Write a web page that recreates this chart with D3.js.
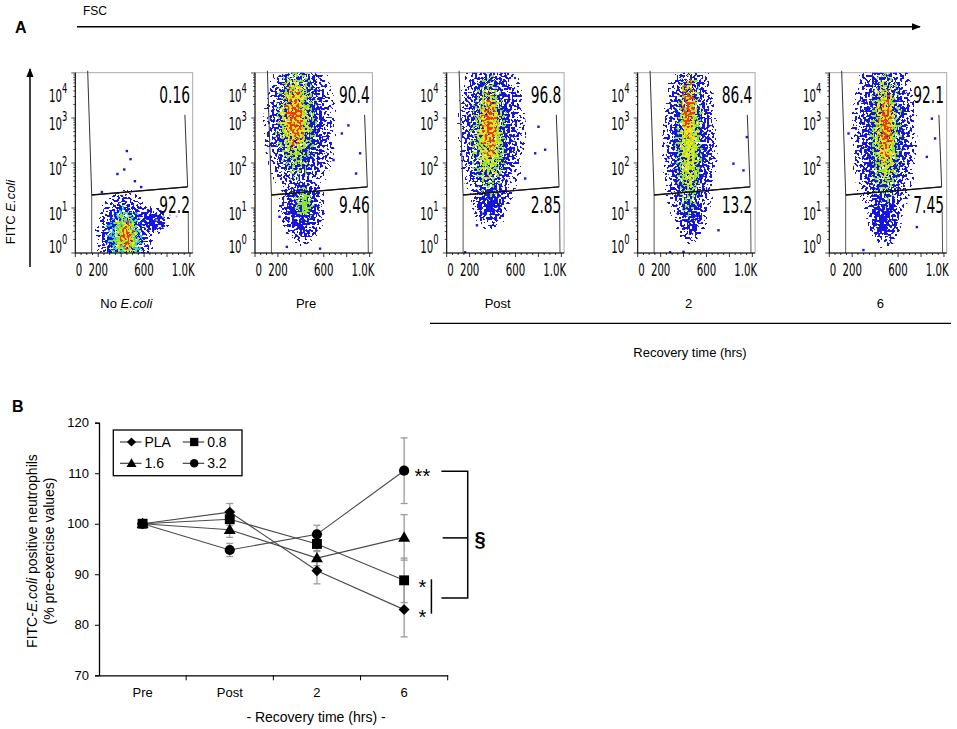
<!DOCTYPE html>
<html><head><meta charset="utf-8">
<script src="https://cdn.jsdelivr.net/npm/d3@7/dist/d3.min.js"></script>
<style>
html,body{margin:0;padding:0;background:#fff;}
svg{display:block;}
text{font-family:"Liberation Sans",Arial,sans-serif;fill:#000;}
.flow{font-family:"DejaVu Sans",sans-serif;}
</style></head>
<body>
<svg id="fig" width="957" height="729"></svg>
<script>
// ---------------- DATA ----------------
// Panel A: flow cytometry
const panelNames = ["No E.coli", "Pre", "Post", "2", "6"];
const upperPct = ["0.16", "90.4", "96.8", "86.4", "92.1"];
const lowerPct = ["92.2", "9.46", "2.85", "13.2", "7.45"];
const fscTickValues = [0, 200, 600, 1000];
const fscTickLabels = ["0", "200", "600", "1.0K"];
const fitcDecades = [0, 1, 2, 3, 4];
// population clouds: [FSC centre, log10 FITC centre, FSC radius, log radius, level]
const clouds1 = [[430,0.4,260,1.05,"blue"],[660,0.72,170,0.32,"blue"],[430,0.35,175,0.72,"cyan"],[435,0.35,140,0.6,"green"],[440,0.38,105,0.48,"yellow"],[450,0.38,70,0.36,"red"]];
const clouds2 = [[390,2.85,320,1.75,"blue"],[410,1.0,210,0.85,"blue"],[360,2.9,190,1.35,"green"],[350,3.0,140,1.05,"yellow"],[345,3.0,95,0.75,"red"],[430,1.1,90,0.4,"green"]];
const clouds3 = [[390,2.75,300,1.95,"blue"],[380,1.2,170,0.7,"blue"],[370,2.6,170,1.45,"green"],[370,2.7,125,1.15,"yellow"],[370,2.8,80,0.85,"red"]];
const clouds4 = [[455,2.4,245,2.2,"blue"],[460,0.9,130,0.7,"blue"],[450,2.4,130,1.8,"green"],[450,2.6,90,1.4,"yellow"],[440,3.2,65,0.75,"red"]];
const clouds5 = [[480,2.6,290,2.1,"blue"],[480,0.9,160,0.8,"blue"],[490,2.6,150,1.65,"green"],[490,2.7,105,1.3,"yellow"],[490,2.8,70,0.9,"red"]];
// isolated events: [FSC, log10 FITC]
const events1 = [[448,2.27],[480,2.09],[425,1.86],[366,1.76],[518,1.6],[573,1.47],[230,1.36]];
const events2 = [[915,2.22],[880,1.77],[813,2.84],[756,2.66],[683,2.07],[212,0.81],[276,0.14],[566,0.1]];
const events3 = [[857,2.30],[799,2.81],[770,2.22],[683,1.66],[319,0.88],[262,0.62],[159,0.02]];
const events4 = [[950,2.58],[921,1.84],[833,1.99],[703,0.51],[398,0.03],[281,0.02]];
const events5 = [[921,2.55],[849,2.14],[893,2.99],[166,2.66],[296,0.07],[762,0.58]];
const faintEvents = [[767,0.81],[826,0.84],[884,0.81],[710,0.73]];
// gate outlines (FSC, log10 FITC)
const gateUpper = [[108,4.1],[143,1.29],[980,1.47],[956,3.07]];
const gateLowerLeft = [[143,1.29],[143,0]];
const gateLowerRight = [[985,0.92],[988,0]];

// Panel B: line chart
const timepoints = ["Pre", "Post", "2", "6"];
const seriesNames = ["PLA", "0.8", "1.6", "3.2"];
const valPLA = [100, 102.3, 90.7, 83.0];
const errPLA = [0, 1.7, 2.6, 5.4];
const val08 = [100, 100.9, 96.0, 88.8];
const err08 = [0, 1.2, 1.5, 4.4];
const val16 = [100, 98.8, 93.2, 97.3];
const err16 = [0, 1.5, 1.5, 4.5];
const val32 = [100, 94.8, 97.9, 110.5];
const err32 = [0, 1.3, 1.8, 6.5];
const yTicksB = [70, 80, 90, 100, 110, 120];

// ---------------- DRAW ----------------
const svg = d3.select("#fig");
const defs = svg.append("defs");

const levelColors = {blue:"#1616dc", cyan:"#22c8e8", green:"#8ae828", yellow:"#ece41a", red:"#f2380e"};
// centre / mid / edge opacities of each density level
const levelOpacity = {blue:[1,0.75,0.42], cyan:[0.9,0.6,0.3], green:[0.88,0.62,0.3], yellow:[0.78,0.55,0.25], red:[0.66,0.45,0.2]};
const levelSeeds = {blue:3, cyan:7, green:11, yellow:17, red:23};
Object.keys(levelColors).forEach(k => {
  const op = levelOpacity[k];
  const g = defs.append("radialGradient").attr("id","grad-"+k);
  g.append("stop").attr("offset","0%").attr("stop-color",levelColors[k]).attr("stop-opacity",op[0]);
  g.append("stop").attr("offset","45%").attr("stop-color",levelColors[k]).attr("stop-opacity",op[1]);
  g.append("stop").attr("offset","80%").attr("stop-color",levelColors[k]).attr("stop-opacity",op[2]);
  g.append("stop").attr("offset","100%").attr("stop-color",levelColors[k]).attr("stop-opacity",0);
  const f = defs.append("filter").attr("id","spk-"+k)
    .attr("filterUnits","userSpaceOnUse").attr("x",0).attr("y",0).attr("width",957).attr("height",729)
    .attr("color-interpolation-filters","sRGB");
  f.append("feTurbulence").attr("type","fractalNoise").attr("baseFrequency",0.4).attr("numOctaves",1)
    .attr("seed",levelSeeds[k]).attr("result","n");
  f.append("feColorMatrix").attr("in","n").attr("type","matrix")
    .attr("values","0 0 0 0 0  0 0 0 0 0  0 0 0 0 0  3.2 0 0 0 -1.1").attr("result","na");
  f.append("feComposite").attr("in","SourceAlpha").attr("in2","na").attr("operator","arithmetic")
    .attr("k1",0).attr("k2",1).attr("k3",1).attr("k4",-0.5).attr("result","s");
  const ct = f.append("feComponentTransfer").attr("in","s").attr("result","m");
  ct.append("feFuncA").attr("type","discrete").attr("tableValues","0 1");
  f.append("feColorMatrix").attr("in","SourceGraphic").attr("type","matrix")
    .attr("values","1 0 0 0 0  0 1 0 0 0  0 0 1 0 0  0 0 0 100 0").attr("result","op");
  f.append("feComposite").attr("in","op").attr("in2","m").attr("operator","in");
});

// arrow marker
defs.append("marker").attr("id","arr").attr("viewBox","0 0 10 10").attr("refX",9).attr("refY",5)
  .attr("markerWidth",9).attr("markerHeight",9).attr("markerUnits","userSpaceOnUse").attr("orient","auto")
  .append("path").attr("d","M0,1 L10,5 L0,9 Z").attr("fill","#000");

// Figure labels
svg.append("text").attr("x",15).attr("y",33).attr("font-weight","bold").attr("font-size",16).text("A");
svg.append("text").attr("x",12).attr("y",412).attr("font-weight","bold").attr("font-size",16).text("B");

// FSC arrow
svg.append("text").attr("x",83).attr("y",15).attr("font-size",12).text("FSC");
svg.append("line").attr("x1",77).attr("x2",920).attr("y1",26.7).attr("y2",26.7)
  .attr("stroke","#000").attr("stroke-width",1.5).attr("marker-end","url(#arr)");
// FITC arrow
svg.append("line").attr("x1",30).attr("x2",30).attr("y1",267).attr("y2",69)
  .attr("stroke","#000").attr("stroke-width",1.5).attr("marker-end","url(#arr)");
svg.append("text").attr("transform","translate(15,212) rotate(-90)").attr("text-anchor","middle")
  .attr("font-size",13).html('FITC <tspan font-style="italic">E.coli</tspan>');

const panelLeft = [75.3, 255, 446.7, 637.7, 829.3];
const panelW = 117.4, panelTop = 72.7, panelBottom = 253;
const allClouds = [clouds1, clouds2, clouds3, clouds4, clouds5];
const allEvents = [events1, events2, events3, events4, events5];
const SX = 0.6;

function flowText(g, x, y, str, size, anchor){
  return g.append("text").attr("class","flow")
    .attr("transform",`translate(${x},${y}) scale(${SX},1)`)
    .attr("text-anchor",anchor).attr("font-size",size).text(str);
}

panelNames.forEach((name, i) => {
  const L = panelLeft[i];
  const x = d3.scaleLinear().domain([0,1024]).range([L, L+panelW]);
  const y = d3.scaleLog().domain([1,1e4]).range([panelBottom, panelTop + 0.3]);
  const yl = v => y(Math.pow(10, v));
  const g = svg.append("g");
  const clipId = "clip"+i;
  defs.append("clipPath").attr("id",clipId).append("rect")
    .attr("x",L).attr("y",panelTop).attr("width",panelW).attr("height",panelBottom-panelTop);

  // frame
  g.append("rect").attr("x",L).attr("y",panelTop).attr("width",panelW).attr("height",panelBottom-panelTop)
    .attr("fill","#fff").attr("stroke","#a8a8a8").attr("stroke-width",1);

  // clouds
  const cg = g.append("g").attr("clip-path",`url(#${clipId})`);
  allClouds[i].forEach(c => {
    const cx = x(c[0]), rx = x(c[0]+c[2]) - x(c[0]);
    const cy = yl(c[1]), ry = yl(c[1]) - yl(c[1]+c[3]);
    cg.append("ellipse").attr("cx",cx).attr("cy",cy).attr("rx",rx).attr("ry",ry)
      .attr("fill",`url(#grad-${c[4]})`).attr("filter",`url(#spk-${c[4]})`);
  });
  allEvents[i].forEach(e => {
    cg.append("rect").attr("x",x(e[0])-1).attr("y",yl(e[1])-1).attr("width",2.4).attr("height",2.4).attr("fill","#1616dc");
  });
  if (i === 0) faintEvents.forEach(e => {
    cg.append("rect").attr("x",x(e[0])-1).attr("y",yl(e[1])-1).attr("width",2).attr("height",2).attr("fill","#b8b8f0");
  });

  // gates
  const line = d3.line().x(d => x(d[0])).y(d => yl(Math.max(0,Math.min(4.05,d[1]))));
  [gateUpper, gateLowerLeft, gateLowerRight].forEach((gt, k) => {
    g.append("path").attr("d",line(gt)).attr("fill","none")
      .attr("stroke", k===0 ? "#333" : "#555").attr("stroke-width",1);
  });
  g.append("path").attr("d",line([gateUpper[1],gateUpper[2]])).attr("fill","none").attr("stroke","#111").attr("stroke-width",1.4);

  // percentages
  flowText(g, L+panelW-2.7, 103.3, upperPct[i], 23, "end");
  flowText(g, L+panelW-2.7, 213.3, lowerPct[i], 23, "end");

  // axes
  g.append("line").attr("x1",L).attr("x2",L+panelW).attr("y1",panelBottom).attr("y2",panelBottom).attr("stroke","#000");
  g.append("line").attr("x1",L).attr("x2",L).attr("y1",panelTop).attr("y2",panelBottom).attr("stroke","#000");
  d3.range(0,1025,50).forEach(v => {
    const major = v % 200 === 0;
    g.append("line").attr("x1",x(v)).attr("x2",x(v)).attr("y1",panelBottom).attr("y2",panelBottom+(major?4:2))
      .attr("stroke","#000").attr("stroke-width",0.8);
  });
  fscTickValues.forEach((v, k) => {
    const anchor = k === 0 ? "start" : (k === fscTickValues.length-1 ? "end" : "middle");
    const px = k === 0 ? x(v)+0.5 : (k === fscTickValues.length-1 ? L+panelW+2 : x(v));
    flowText(g, px, 276, fscTickLabels[k], 17, anchor);
  });
  // log ticks
  for (let d = 0; d < 4; d++) {
    for (let m = 1; m < 10; m++) {
      const v = m * Math.pow(10, d);
      g.append("line").attr("x1",L).attr("x2",L-(m===1?4:2)).attr("y1",y(v)).attr("y2",y(v))
        .attr("stroke","#000").attr("stroke-width",0.7);
    }
  }
  g.append("line").attr("x1",L).attr("x2",L-4).attr("y1",y(1e4)).attr("y2",y(1e4)).attr("stroke","#000").attr("stroke-width",0.7);
  fitcDecades.forEach(d => {
    const ty = Math.max(95.7, Math.min(246.7, y(Math.pow(10,d)) + 5.7));
    flowText(g, L-13.4, ty + 6, "10", 17, "end");
    flowText(g, L-13.4, ty - 2.4, String(d), 14, "start");
  });

  // panel name
  const lbl = svg.append("text").attr("x",L+51).attr("y",308).attr("text-anchor","middle").attr("font-size",13);
  if (name === "No E.coli") lbl.html('No <tspan font-style="italic">E.coli</tspan>');
  else lbl.text(name);
});

svg.append("line").attr("x1",430).attr("x2",951).attr("y1",323.3).attr("y2",323.3).attr("stroke","#000").attr("stroke-width",1.2);
svg.append("text").attr("x",690).attr("y",357).attr("text-anchor","middle").attr("font-size",13).text("Recovery time (hrs)");

// ---------------- Panel B ----------------
const xB = d3.scaleBand().domain(timepoints).range([99, 447.7]);
const yB = d3.scaleLinear().domain([70, 120]).range([675.3, 422.7]);
const gB = svg.append("g");

const yAxis = d3.axisLeft(yB).tickValues(yTicksB).tickSize(4).tickPadding(6);
const ya = gB.append("g").attr("transform","translate(99,0)").call(yAxis);
ya.select(".domain").attr("stroke","#000").attr("stroke-width",1.3);
ya.selectAll("text").attr("font-size",13).attr("font-family","Liberation Sans, Arial, sans-serif").attr("fill","#222");

const xAxis = d3.axisBottom(xB).tickSize(0).tickPadding(12);
const xa = gB.append("g").attr("transform","translate(0,675.3)").call(xAxis);
xa.select(".domain").attr("stroke","#000").attr("stroke-width",1.3);
xa.selectAll("text").attr("font-size",13).attr("font-family","Liberation Sans, Arial, sans-serif").attr("fill","#222");
timepoints.forEach((t, k) => {
  const bx = xB(t) + xB.bandwidth();
  gB.append("line").attr("x1",bx).attr("x2",bx).attr("y1",675.3).attr("y2",680.3).attr("stroke","#000");
});

const yLab = gB.append("text").attr("transform","translate(37,551) rotate(-90)").attr("text-anchor","middle").attr("font-size",14);
yLab.html('FITC-<tspan font-style="italic">E.coli</tspan> positive neutrophils');
gB.append("text").attr("transform","translate(54,551) rotate(-90)").attr("text-anchor","middle").attr("font-size",14)
  .text("(% pre-exercise values)");
gB.append("text").attr("x",316).attr("y",722).attr("text-anchor","middle").attr("font-size",14).text("- Recovery time (hrs) -");

const series = [
  {name:"PLA", v:valPLA, e:errPLA, sym:"diamond"},
  {name:"1.6", v:val16, e:err16, sym:"triangle"},
  {name:"3.2", v:val32, e:err32, sym:"circle"},
  {name:"0.8", v:val08, e:err08, sym:"square"}
];
const cx = t => xB(t) + xB.bandwidth()/2;
function symPath(sym, scale){
  const s = scale || 1;
  if (sym === "diamond") return d3.symbol(d3.symbolSquare, 60*s)();
  if (sym === "square") return d3.symbol(d3.symbolSquare, 98*s)();
  if (sym === "triangle") return d3.symbol(d3.symbolTriangle, 62*s)();
  return d3.symbol(d3.symbolCircle, 82*s)();
}
function symTransform(sym, px, py){
  return sym === "diamond" ? `translate(${px},${py}) rotate(45)` : (sym==="triangle" ? `translate(${px},${py+0.8})` : `translate(${px},${py})`);
}
// error bars
series.forEach(s => {
  timepoints.forEach((t, k) => {
    if (!s.e[k]) return;
    const px = cx(t), y1 = yB(s.v[k]+s.e[k]), y2 = yB(s.v[k]-s.e[k]);
    gB.append("line").attr("x1",px).attr("x2",px).attr("y1",y1).attr("y2",y2).attr("stroke","#9a9a9a").attr("stroke-width",1.3);
    [y1,y2].forEach(yy => gB.append("line").attr("x1",px-3.5).attr("x2",px+3.5).attr("y1",yy).attr("y2",yy).attr("stroke","#9a9a9a").attr("stroke-width",1.3));
  });
});
// lines
const lineB = d3.line().x((d,k) => cx(timepoints[k])).y(d => yB(d));
series.forEach(s => {
  gB.append("path").attr("d",lineB(s.v)).attr("fill","none").attr("stroke","#4a4a4a").attr("stroke-width",1.1);
});
// markers
series.forEach(s => {
  timepoints.forEach((t, k) => {
    gB.append("path").attr("d",symPath(s.sym)).attr("transform",symTransform(s.sym, cx(t), yB(s.v[k]))).attr("fill","#000");
  });
});

// legend
gB.append("rect").attr("x",113.3).attr("y",430).attr("width",128.7).attr("height",45.7).attr("fill","#fff").attr("stroke","#000").attr("stroke-width",1.3);
const legendItems = [
  {name:"PLA", sym:"diamond", lx:120, ly:442},
  {name:"0.8", sym:"square", lx:182.7, ly:442},
  {name:"1.6", sym:"triangle", lx:120, ly:463.3},
  {name:"3.2", sym:"circle", lx:182.7, ly:463.3}
];
legendItems.forEach(it => {
  gB.append("line").attr("x1",it.lx).attr("x2",it.lx+21.5).attr("y1",it.ly).attr("y2",it.ly).attr("stroke","#333").attr("stroke-width",1.1);
  gB.append("path").attr("d",symPath(it.sym,0.7)).attr("transform",symTransform(it.sym, it.lx+11.5, it.ly)).attr("fill","#000");
  gB.append("text").attr("x",it.lx+24.5).attr("y",it.ly+5).attr("font-size",14).text(it.name);
});

// significance annotations
const x6 = cx("6");
gB.append("text").attr("x",x6+10.5).attr("y",yB(val32[3])+12).attr("font-size",20).text("**");
gB.append("text").attr("x",x6+14.5).attr("y",yB(val08[3])+14).attr("font-size",20).text("*");
gB.append("text").attr("x",x6+14.5).attr("y",yB(valPLA[3])+14).attr("font-size",20).text("*");
gB.append("line").attr("x1",x6+27.3).attr("x2",x6+27.3).attr("y1",yB(89.0)).attr("y2",yB(82.2)).attr("stroke","#000").attr("stroke-width",1.5);
const brTop = yB(110.4), brBot = yB(85.3), brMid = yB(97.2);
gB.append("path").attr("d",`M${x6+37.3},${brTop} H${x6+63.6} V${brBot} H${x6+37.3}`).attr("fill","none").attr("stroke","#000").attr("stroke-width",1.5);
gB.append("line").attr("x1",x6+38.5).attr("x2",x6+63.6).attr("y1",brMid).attr("y2",brMid).attr("stroke","#000").attr("stroke-width",1.5);
gB.append("text").attr("x",x6+76).attr("y",brMid+8).attr("text-anchor","middle").attr("font-size",20).attr("font-weight","bold").text("§");
</script>
</body></html>
